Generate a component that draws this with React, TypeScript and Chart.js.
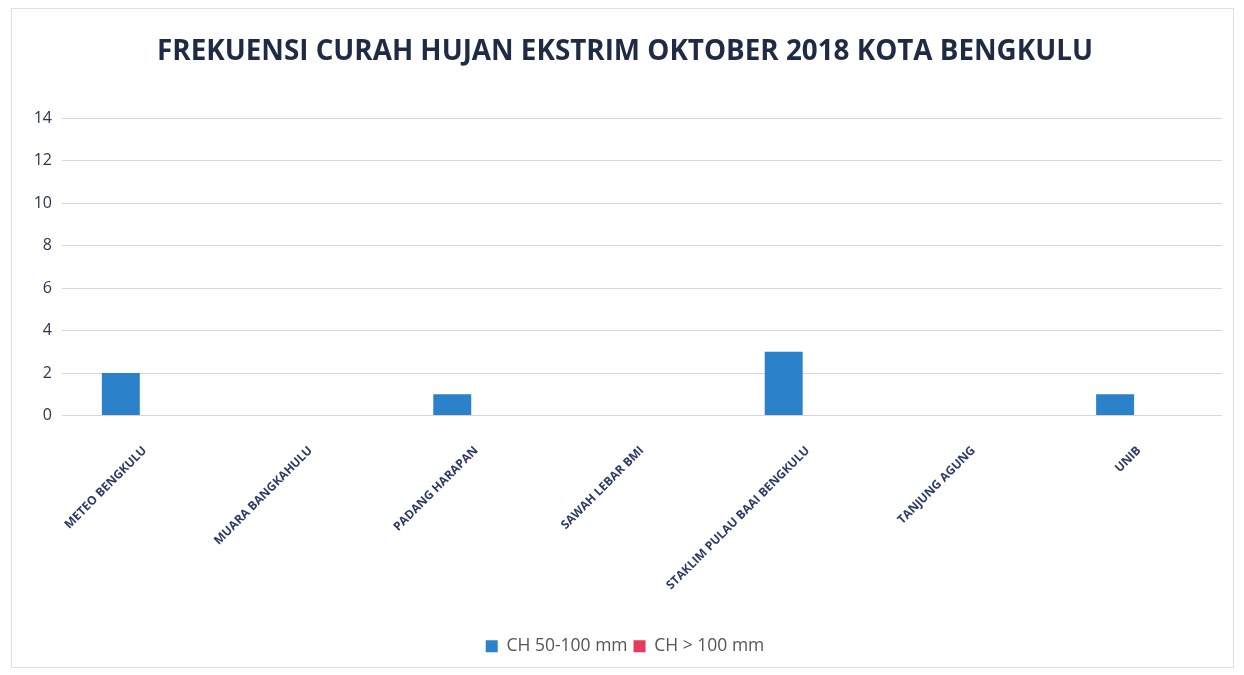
import React, { useEffect, useRef } from "react";
import { Chart, registerables } from "chart.js";

Chart.register(...registerables);

const stations = [
  "METEO BENGKULU",
  "MUARA BANGKAHULU",
  "PADANG HARAPAN",
  "SAWAH LEBAR BMI",
  "STAKLIM PULAU BAAI BENGKULU",
  "TANJUNG AGUNG",
  "UNIB",
];
const ch50to100 = [2, 0, 1, 0, 3, 0, 1];
const chOver100 = [0, 0, 0, 0, 0, 0, 0];
const yTicks = [0, 2, 4, 6, 8, 10, 12, 14];

const frame = {
  id: "frame",
  beforeDraw(chart: any) {
    const ctx = chart.ctx;
    ctx.save();
    ctx.fillStyle = "#ffffff";
    ctx.fillRect(0, 0, chart.width, chart.height);
    ctx.strokeStyle = "#dddde4";
    ctx.lineWidth = 1;
    ctx.strokeRect(11.5, 8.5, chart.width - 22, chart.height - 16);
    ctx.restore();
  },
};

export default function App() {
  const ref = useRef<HTMLCanvasElement>(null);
  useEffect(() => {
    if (!ref.current) return;
    const chart = new Chart(ref.current, {
      type: "bar",
      data: {
        labels: stations,
        datasets: [
          {
            label: "CH 50-100 mm",
            data: ch50to100,
            backgroundColor: "#2b82cb",
            borderWidth: 0,
            categoryPercentage: 0.58,
            barPercentage: 0.79,
          },
          {
            label: "CH > 100 mm",
            data: chOver100,
            backgroundColor: "#e8395f",
            borderWidth: 0,
            categoryPercentage: 0.58,
            barPercentage: 0.79,
          },
        ],
      },
      plugins: [frame],
      options: {
        animation: false,
        responsive: false,
        layout: { padding: { left: 28, right: 22, top: 0, bottom: 10 } },
        plugins: {
          title: {
            display: true,
            text: "FREKUENSI CURAH HUJAN EKSTRIM OKTOBER 2018 KOTA BENGKULU",
            color: "#1f2a44",
            font: { family: "Open Sans", size: 27.8, weight: "bold" },
            padding: { top: 35, bottom: 50 },
          },
          legend: {
            position: "bottom",
            labels: {
              color: "#555555",
              font: { family: "Open Sans", size: 17.5 },
              boxWidth: 12,
              boxHeight: 12,
              padding: 6,
            },
          },
          tooltip: { enabled: false },
        },
        scales: {
          x: {
            grid: { display: false },
            border: { display: false },
            ticks: {
              autoSkip: false,
              maxRotation: 45,
              minRotation: 45,
              padding: 20,
              color: "#2c3a66",
              font: { family: "Open Sans", size: 12, weight: "bold" },
            },
            afterFit(scale: any) {
              scale.height = 216;
            },
          },
          y: {
            min: 0,
            max: 14,
            afterBuildTicks(scale: any) {
              scale.ticks = yTicks.map((v) => ({ value: v }));
            },
            grid: { color: "#d9d3df", lineWidth: 1, drawTicks: false },
            border: { display: false },
            ticks: {
              padding: 10,
              color: "#2c3550",
              font: { family: "Open Sans", size: 16 },
            },
            afterFit(scale: any) {
              scale.width = 34;
            },
          },
        },
      },
    } as any);
    return () => chart.destroy();
  }, []);
  return (
    <div style={{ position: "fixed", left: 0, top: 0, width: 1244, height: 675 }}>
      <canvas ref={ref} width={1244} height={675} />
    </div>
  );
}
